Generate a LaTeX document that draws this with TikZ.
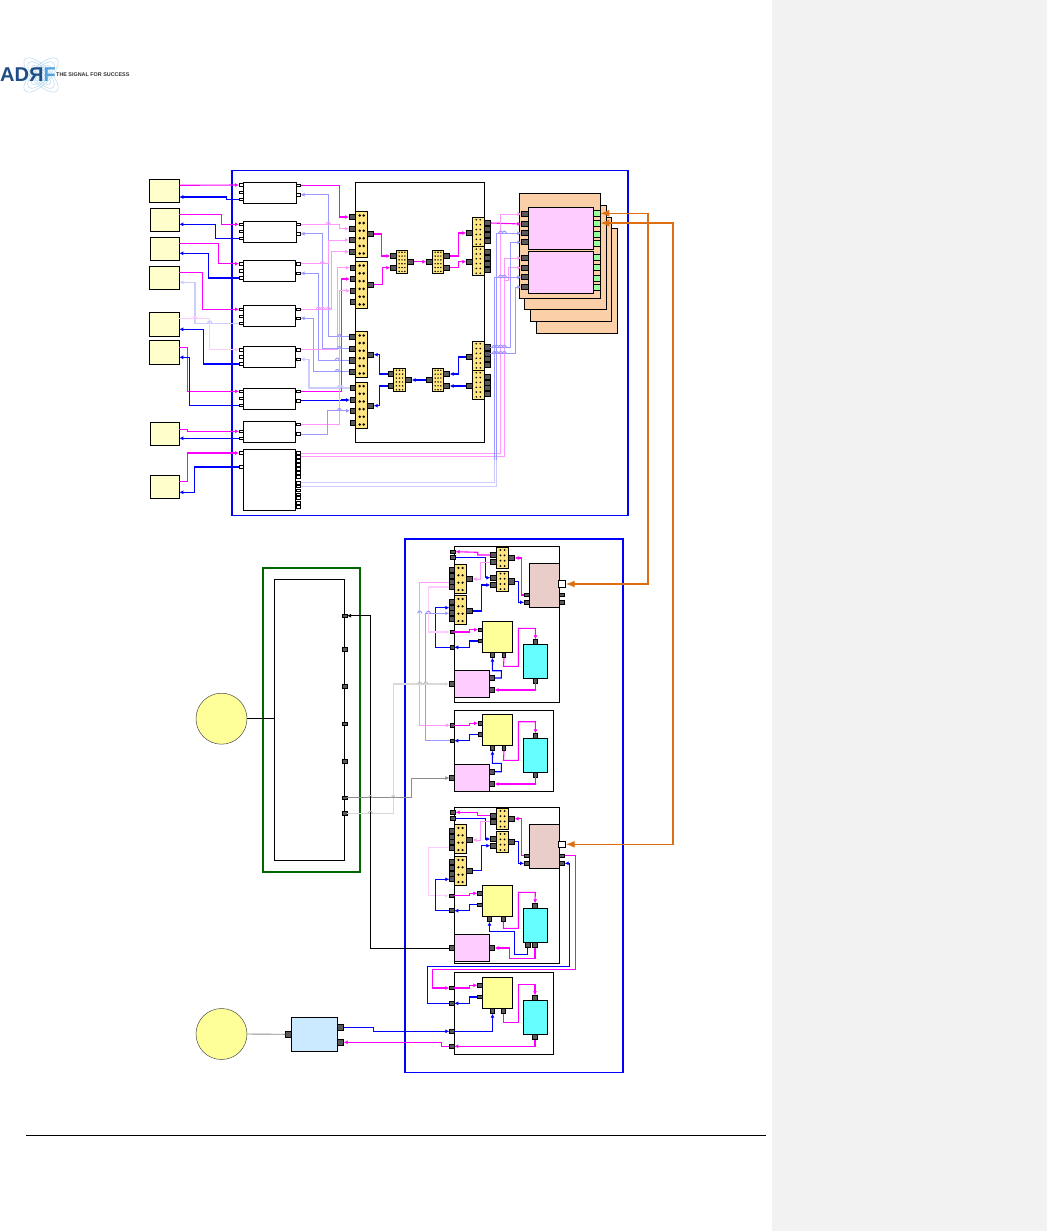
\documentclass[tikz,border=0pt]{standalone}
\usepackage{graphicx}
\usepackage{fontspec}
\setmainfont{Liberation Sans}
\usetikzlibrary{arrows.meta}
\definecolor{cyl}{HTML}{FFFFCC}
\definecolor{cyy}{HTML}{FFFF99}
\definecolor{cor}{HTML}{FBCFA8}
\definecolor{cpk}{HTML}{FFCCFF}
\definecolor{cbr}{HTML}{E8CDC8}
\definecolor{ccy}{HTML}{66FFFF}
\definecolor{cbb}{HTML}{CCEAFF}
\definecolor{cgr}{HTML}{99FF99}
\definecolor{cbk}{HTML}{FFE680}
\definecolor{cpt}{HTML}{595959}
\definecolor{cog}{HTML}{DD6F12}
\definecolor{cmag}{HTML}{FF00FF}
\definecolor{cblu}{HTML}{0000FF}
\definecolor{clogoa}{HTML}{1F4E86}
\definecolor{clogob}{HTML}{4FA0DC}
\definecolor{clogoc}{HTML}{BFDDF2}
\tikzset{
 x=1pt,y=-1pt,
 bb/.style={draw=black,line width=1pt},
 yl/.style={bb,fill=cyl}, yy/.style={bb,fill=cyy}, oo/.style={bb,fill=cor},
 pk/.style={bb,fill=cpk}, br/.style={bb,fill=cbr}, cy/.style={bb,fill=ccy},
 lbb/.style={bb,fill=cbb}, wb/.style={bb,fill=white}, nb/.style={bb},
 kk/.style={bb,fill=cbk},
 dp/.style={draw=black,line width=0.8pt,fill=cpt},
 wpo/.style={draw=black,line width=0.8pt,fill=white},
 gpo/.style={draw=black,line width=0.5pt,fill=cgr},
 wt/.style={-{Latex[length=4pt,width=4pt]}},
 mg/.style={draw=cmag,line width=1.1pt},
 bl/.style={draw=cblu,line width=1.1pt},
 lp/.style={draw=cmag!40,line width=1pt},
 lb/.style={draw=cblu!40,line width=1pt},
 fp/.style={draw=cmag!20,line width=1.3pt},
 fb/.style={draw=cblu!20,line width=1.3pt},
 bkw/.style={draw=black,line width=0.9pt},
 g1/.style={draw=black!15,line width=1.3pt},
 g2/.style={draw=black!25,line width=0.8pt},
 g3/.style={draw=black!45,line width=0.8pt},
 og/.style={draw=cog,line width=1.4pt,{Latex[length=9pt,width=7pt]}-{Latex[length=9pt,width=7pt]}},
}
\newcommand{\bx}[6]{\pgfmathsetmacro\cxa{((#3)+(#5))/2}\pgfmathsetmacro\cya{((#4)+(#6))/2}\pgfmathsetmacro\wa{(#5)-(#3)}\pgfmathsetmacro\ha{(#6)-(#4)}\node[#1,minimum width=\wa pt,minimum height=\ha pt,inner sep=0pt,outer sep=0pt] (#2) at (\cxa,\cya) {};}
\newcommand{\pth}[6]{\bx{#1}{#2}{#3}{#5-#6/2}{#4}{#5+#6/2}}
% block with dot grid: name x1 y1 x2 y2 cols rows r
\newcommand{\blk}[8]{\bx{kk}{#1}{#2}{#3}{#4}{#5}\pgfmathsetmacro\dxa{(#4-#2)/(#6+1)}\pgfmathsetmacro\dya{(#5-#3)/(#7)}\foreach \ci in {1,...,#6}{\foreach \cj in {1,...,#7}{\fill[black] ({#2+\ci*\dxa},{#3+(\cj-0.5)*\dya}) circle (#8pt);}}}
\newcommand{\jmp}[3]{\draw[#1] ({#2-2.2},#3) .. controls ({#2-1},{#3-3}) and ({#2+1},{#3-3}) .. ({#2+2.2},#3);}
\begin{document}
\begin{tikzpicture}
\useasboundingbox (0,0) rectangle (1047,1231);
\fill[white] (0,0) rectangle (1047,1231);
\fill[black!5] (772,0) rectangle (1047,1231);
\draw[black,line width=0.7pt] (26,1135) -- (766,1135);
% logo
\foreach \r in {6,10,14,18}{
 \draw[clogoc,line width=0.6pt,rotate around={45:(41,75)}] (41,75) ellipse ({\r*1.25} and {\r*0.5});
 \draw[clogoc,line width=0.6pt,rotate around={-45:(41,75)}] (41,75) ellipse ({\r*1.25} and {\r*0.5});
}
\node[inner sep=0pt,anchor=west,font=\bfseries\fontsize{20}{20}\selectfont,text=clogoa] (logo) at (0,75) {AD\reflectbox{R}\textcolor{clogob}{F}};
\node[inner sep=0pt,anchor=west,font=\bfseries\fontsize{5.4}{6}\selectfont,text=black!80] (tagline) at (56,75) {THE SIGNAL FOR SUCCESS};
% frames
\bx{draw=blue,line width=1.6pt}{frma}{232}{170.5}{628}{515.5}
\bx{draw=blue,line width=1.6pt}{frmb}{405}{538.7}{622.7}{1072.3}
\bx{draw=green!40!black,line width=1.6pt}{frmc}{263}{568}{360}{872}
\bx{nb}{ginner}{274.3}{579.3}{344.3}{860.3}
% left yellow boxes
\bx{yl}{yb1}{149.3}{179.3}{179.3}{202.3}
\bx{yl}{yb2}{150.3}{208.3}{179.3}{231.3}
\bx{yl}{yb3}{150.3}{237.3}{179.3}{260.3}
\bx{yl}{yb4}{149.3}{266.3}{179.3}{289.3}
\bx{yl}{yb5}{149.3}{312.3}{179.3}{336.3}
\bx{yl}{yb6}{149.3}{340.3}{179.3}{364.3}
\bx{yl}{yb7}{150.3}{422.3}{179.3}{445.3}
\bx{yl}{yb8}{150.3}{475.3}{179.3}{498.3}
\foreach \n/\a/\b in {1/185.3/197,2/214.3/224.3,3/243.3/253.3,4/272.3/282.3,5/318.7/329.3,6/347.3/357.3,7/429.3/438.3,8/481.3/492.3}{
 \coordinate (q\n m) at (179.3,\a);
 \coordinate (q\n b) at (179.3,\b);
}
% white modules
\bx{wb}{ma}{243.3}{182.3}{296.3}{203.3}
\bx{wb}{mb}{243.3}{221.3}{296.3}{242.3}
\bx{wb}{mc}{243.3}{260.3}{295.3}{281.3}
\bx{wb}{md}{243.3}{305.3}{295.3}{326.3}
\bx{wb}{me}{243.3}{346.3}{295.3}{367.3}
\bx{wb}{mf}{243.3}{388.3}{295.3}{409.3}
\bx{wb}{mgg}{243.3}{421.3}{295.3}{442.3}
\bx{wb}{mh}{243.3}{449.3}{295.3}{510.3}
\foreach \n/\a/\b/\c/\d/\e in {a/185/192.3/199.3/185.3/194.7,b/224.3/231.3/238.3/224.3/233.7,c/263.7/270.7/278/263.7/273.3,d/309.3/316.3/323.3/309.3/318.3,e/349.7/356.7/364/349.7/359.3,f/391.3/398.3/405.3/391.3/400.7}{
 \pth{wpo}{m\n l1}{239}{243.3}{\a}{2.8}
 \pth{wpo}{m\n l2}{239}{243.3}{\b}{2.8}
 \pth{wpo}{m\n l3}{239}{243.3}{\c}{2.8}
 \pth{wpo}{m\n r1}{296}{300.5}{\d}{2.8}
 \pth{wpo}{m\n r2}{296}{300.5}{\e}{2.8}
}
\pth{wpo}{mgl1}{239}{243.3}{431.3}{2.8}
\pth{wpo}{mgl2}{239}{243.3}{438.3}{2.8}
\pth{wpo}{mgr1}{296}{300.5}{424.3}{2.8}
\pth{wpo}{mgr2}{296}{300.5}{434}{2.8}
\pth{wpo}{mhl1}{239}{243.3}{453}{2.8}
\pth{wpo}{mhl2}{239}{243.3}{467}{2.8}
\foreach \i/\y in {1/453,2/456.7,3/460.7,4/464.7,5/468.7,6/473,7/477,8/482.7,9/486.3,10/490.3,11/494.3,12/498,13/502.7,14/506.7}{
 \pth{wpo}{hr\i}{296}{300.5}{\y}{2.8}
}
% inner box
\bx{nb}{inner}{355.3}{182.3}{484.3}{442.3}
\blk{bl1}{355.7}{211.7}{367.7}{257.3}{2}{6}{1.4}
\blk{bl2}{355.7}{261.7}{367.7}{308.3}{2}{6}{1.4}
\blk{bl3}{355.7}{331.7}{367.7}{377.3}{2}{6}{1.4}
\blk{bl4}{355.7}{382.3}{367.7}{428.3}{2}{6}{1.4}
\foreach \i/\y in {1/217,2/228.7,3/240,4/251.7}{\pth{dp}{bl1p\i}{349}{355.3}{\y}{5.3}}
\foreach \i/\y in {1/267.7,2/279,3/290.7,4/301.7}{\pth{dp}{bl2p\i}{350}{355.3}{\y}{5.3}}
\foreach \i/\y in {1/336.7,2/348.7,3/360.3,4/371.7}{\pth{dp}{bl3p\i}{349}{355.3}{\y}{5.3}}
\foreach \i/\y in {1/388,2/400,3/410.7,4/422.7}{\pth{dp}{bl4p\i}{350}{355.3}{\y}{5.3}}
\pth{dp}{bl1r}{367.5}{373.7}{234}{5.3}
\pth{dp}{bl2r}{367.5}{373.7}{284.7}{5.3}
\pth{dp}{bl3r}{367.5}{373.7}{354.7}{5.3}
\pth{dp}{bl4r}{367.5}{373.7}{405.7}{5.3}
% small blocks
\blk{stl}{396.3}{250.3}{407.7}{273.3}{3}{6}{0.8}
\blk{str}{432.3}{250.3}{443.7}{273.3}{3}{6}{0.8}
\blk{sbl}{393.3}{368.3}{405.7}{391.7}{3}{6}{0.8}
\blk{sbr}{432.3}{368.3}{443.7}{391.7}{3}{6}{0.8}
\pth{dp}{stlp1}{390.3}{396.3}{256}{5.3}
\pth{dp}{stlp2}{390.3}{396.3}{267.7}{5.3}
\pth{dp}{stlr}{407.7}{413.7}{261.7}{5.3}
\pth{dp}{strl}{426.3}{432.3}{261.7}{5.3}
\pth{dp}{strp1}{443.7}{449.7}{256}{5.3}
\pth{dp}{strp2}{443.7}{449.7}{267.7}{5.3}
\pth{dp}{sblp1}{388.3}{393.3}{374}{5.3}
\pth{dp}{sblp2}{388.3}{393.3}{386}{5.3}
\pth{dp}{sblr}{405.7}{411.7}{380}{5.3}
\pth{dp}{sbrl}{426.3}{432.3}{380}{5.3}
\pth{dp}{sbrp1}{443.7}{449.7}{374}{5.3}
\pth{dp}{sbrp2}{443.7}{449.7}{386}{5.3}
% right blocks
\blk{br1}{472.3}{217.3}{484.3}{246.7}{2}{6}{0.9}
\blk{br2}{472.3}{246.7}{484.3}{275.7}{2}{6}{0.9}
\blk{br3}{472.3}{341.3}{484.3}{370.3}{2}{6}{0.9}
\blk{br4}{472.3}{370.3}{484.3}{399.3}{2}{6}{0.9}
\pth{dp}{br1l}{466.3}{472.3}{233}{5.3}
\pth{dp}{br2l}{466.3}{472.3}{261.7}{5.3}
\pth{dp}{br3l}{466.3}{472.3}{357}{5.3}
\pth{dp}{br4l}{466.3}{472.3}{386}{5.3}
\foreach \i/\y in {1/223,2/229,3/235,4/241}{\pth{dp}{br1p\i}{484.3}{490.7}{\y}{5.3}}
\foreach \i/\y in {1/252,2/258,3/264,4/270}{\pth{dp}{br2p\i}{484.3}{490.7}{\y}{5.3}}
\foreach \i/\y in {1/347.3,2/353.7,3/359,4/365}{\pth{dp}{br3p\i}{484.3}{490.3}{\y}{5.3}}
\foreach \i/\y in {1/377,2/383,3/388,4/394}{\pth{dp}{br4p\i}{484.3}{490.3}{\y}{5.3}}
% orange stack
\bx{oo}{o4}{536.3}{228.3}{617.7}{333.3}
\bx{oo}{o3}{530.3}{217.3}{611.7}{321.3}
\bx{oo}{o2}{524.3}{205.7}{606.7}{309.3}
\bx{oo}{o1}{519.3}{193.3}{600.3}{298.3}
\foreach \i/\y in {1/214,2/224,3/233.3,4/242.3,5/258,6/267.7,7/277.3,8/287}{\pth{dp}{op\i}{521.3}{528.3}{\y}{5}}
\foreach \i/\y in {1/213.3,2/223,3/234.3,4/243.3,5/257.3,6/267,7/278.3,8/287.3}{\pth{gpo}{og\i}{593.3}{600.3}{\y}{6}}
\bx{pk}{p1}{528.3}{207.3}{593.3}{249.3}
\bx{pk}{p2}{528.3}{251.3}{593.3}{293.3}
% U boxes
\bx{nb}{u1}{454.3}{546.7}{559.3}{702.3}
\bx{nb}{u2}{454.3}{710.3}{553.3}{791.3}
\bx{nb}{u3}{454.3}{807.3}{559.3}{963.3}
\bx{nb}{u4}{454.3}{972.3}{553.3}{1054.3}
% U1
\blk{t1}{496.3}{547.3}{508.7}{568.7}{2}{4}{1}
\blk{t2}{496.3}{571}{508.7}{591.7}{2}{4}{1}
\blk{t3}{454.3}{564.3}{466.7}{593.7}{2}{4}{1.2}
\blk{t4}{454.3}{595.3}{466.7}{624.7}{2}{4}{1.2}
\pth{dp}{t1p1}{490.3}{496.3}{555}{5.3}
\pth{dp}{t1p2}{490.3}{496.3}{562}{5.3}
\pth{dp}{t1r}{508.7}{514.7}{558}{5.3}
\pth{dp}{t2p1}{490.3}{496.3}{577.7}{5.3}
\pth{dp}{t2p2}{490.3}{496.3}{585}{5.3}
\pth{dp}{t2r}{508.7}{514.7}{581.3}{5.3}
\foreach \i/\y in {1/569.7,2/576,3/582,4/587}{\pth{dp}{t3p\i}{449.3}{454.3}{\y}{5}}
\pth{dp}{t3r}{466.7}{472.7}{579}{5.3}
\foreach \i/\y in {1/601.7,2/607.7,3/613.3,4/619}{\pth{dp}{t4p\i}{449.3}{454.3}{\y}{5}}
\pth{dp}{t4r}{466.7}{472.7}{611}{5.3}
\pth{dp}{uat}{450.3}{455.7}{551.7}{3.5}
\pth{dp}{uab}{450.3}{455.7}{557.3}{4}
\bx{br}{b1}{529.3}{563.3}{559.3}{607.3}
\pth{wpo}{b1w}{558.3}{565.7}{584}{7.3}
\pth{dp}{b1l1}{524}{529.3}{595}{3.5}
\pth{dp}{b1l2}{524}{529.3}{602.3}{4.3}
\pth{dp}{b1r1}{559.3}{564.7}{595}{3.5}
\pth{dp}{b1r2}{559.3}{564.7}{602.3}{4.3}
% yellow / cyan / pink sets
\bx{yy}{y1}{482.3}{621.3}{512.7}{652.3}
\pth{dp}{y1l1}{478}{482.3}{629.7}{3.5}
\pth{dp}{y1l2}{478}{482.3}{641}{3.5}
\bx{dp}{y1b1}{490.3}{652.3}{494.7}{657.7}
\bx{dp}{y1b2}{502.3}{652.3}{505.7}{657.7}
\bx{cy}{c1}{523.3}{644.3}{547.3}{678.3}
\bx{dp}{c1t}{533.3}{639.3}{537.7}{644.3}
\bx{dp}{c1b}{533.3}{678.3}{537.7}{683.3}
\bx{pk}{k1}{454.3}{670.3}{489.7}{697.3}
\pth{dp}{k1l}{449.3}{454.3}{684}{5}
\pth{dp}{k1r1}{489.7}{494.7}{678}{5}
\pth{dp}{k1r2}{489.7}{494.7}{690}{5}
\pth{dp}{e11}{450.3}{454.3}{632}{3.5}
\pth{dp}{e12}{450.3}{454.3}{647.3}{4.3}
% U2
\bx{yy}{y2}{482.3}{714.3}{512.7}{745.3}
\pth{dp}{y2l1}{478}{482.3}{723.3}{3.5}
\pth{dp}{y2l2}{478}{482.3}{734.3}{3.5}
\bx{dp}{y2b1}{490.3}{745.3}{494.7}{750.7}
\bx{dp}{y2b2}{502.3}{745.3}{505.7}{750.7}
\bx{cy}{c2}{523.3}{738.3}{547.3}{772.3}
\bx{dp}{c2t}{533.3}{733.3}{537.7}{738.3}
\bx{dp}{c2b}{533.3}{772.3}{537.7}{777.3}
\bx{pk}{k2}{454.3}{764.3}{489.7}{791.3}
\pth{dp}{k2l}{449.3}{454.3}{778}{5}
\pth{dp}{k2r1}{489.7}{494.7}{771.7}{5}
\pth{dp}{k2r2}{489.7}{494.7}{784}{5}
\pth{dp}{e21}{450.3}{454.3}{725.3}{3.5}
\pth{dp}{e22}{450.3}{454.3}{740.7}{3.5}
% U3
\blk{v1}{496.3}{808.3}{508.7}{829.3}{2}{4}{1}
\blk{v2}{496.3}{831.3}{508.7}{852.7}{2}{4}{1}
\blk{v3}{454.3}{824.3}{466.7}{853.7}{2}{4}{1.2}
\blk{v4}{454.3}{856.3}{466.7}{885.7}{2}{4}{1.2}
\pth{dp}{v1p1}{490.3}{496.3}{815.7}{5.3}
\pth{dp}{v1p2}{490.3}{496.3}{821.7}{5.3}
\pth{dp}{v1r}{508.7}{514.7}{818.7}{5.3}
\pth{dp}{v2p1}{490.3}{496.3}{839}{5.3}
\pth{dp}{v2p2}{490.3}{496.3}{845.7}{5.3}
\pth{dp}{v2r}{508.7}{514.7}{841.7}{5.3}
\foreach \i/\y in {1/830.7,2/837,3/842,4/847.7}{\pth{dp}{v3p\i}{449.3}{454.3}{\y}{5}}
\pth{dp}{v3r}{466.7}{472.7}{840}{5.3}
\foreach \i/\y in {1/861.7,2/867.7,3/873.7,4/879.3}{\pth{dp}{v4p\i}{449.3}{454.3}{\y}{5}}
\pth{dp}{v4r}{466.7}{472.7}{870.7}{5.3}
\pth{dp}{uct}{450.3}{455.7}{812.3}{4}
\pth{dp}{ucb}{450.3}{455.7}{818.3}{4}
\bx{br}{b2}{529.3}{824.3}{559.3}{868.3}
\pth{wpo}{b2w}{558.3}{565.7}{844.3}{6.3}
\pth{dp}{b2l1}{524}{529.3}{855.7}{3.5}
\pth{dp}{b2l2}{524}{529.3}{863.3}{4.3}
\pth{dp}{b2r1}{559.3}{564.7}{855.7}{3.5}
\pth{dp}{b2r2}{559.3}{564.7}{863.3}{4.3}
\bx{yy}{y3}{482.3}{885.3}{512.7}{916.3}
\pth{dp}{y3l1}{477.3}{482.3}{893.3}{3.5}
\pth{dp}{y3l2}{477.3}{482.3}{904.7}{3.5}
\bx{dp}{y3b1}{487.3}{916.3}{491.7}{921.7}
\bx{dp}{y3b2}{501.3}{916.3}{505.3}{921.7}
\bx{cy}{c3}{523.3}{908}{547.3}{942.7}
\bx{dp}{c3t}{532.3}{903.3}{537.7}{908}
\bx{dp}{c3b1}{525.3}{942.7}{530.3}{947.7}
\bx{dp}{c3b2}{532.3}{942.7}{537.7}{947.7}
\bx{pk}{k3}{454.3}{934.3}{489.7}{961.7}
\pth{dp}{k3l}{449.3}{454.3}{948}{5}
\pth{dp}{k3r}{489.7}{494.7}{948}{5}
\pth{dp}{e31}{449.3}{454.3}{895.7}{3.5}
\pth{dp}{e32}{449.3}{454.3}{910.7}{4}
% U4
\bx{yy}{y4}{482.3}{977.3}{512.7}{1008.3}
\pth{dp}{y4l1}{477.3}{482.3}{985.3}{3.5}
\pth{dp}{y4l2}{477.3}{482.3}{997}{3.5}
\bx{dp}{y4b1}{490.3}{1008.3}{494.7}{1013.7}
\bx{dp}{y4b2}{501.3}{1008.3}{505.3}{1013.7}
\bx{cy}{c4}{523.3}{1000.3}{547.3}{1034.3}
\bx{dp}{c4t}{532.3}{995.3}{537.7}{1000.3}
\bx{dp}{c4b}{532.3}{1034.3}{537.7}{1039.7}
\pth{dp}{e41}{449.3}{454.3}{988}{3.5}
\pth{dp}{e42}{449.3}{454.3}{1003.3}{4}
\pth{dp}{e43}{449.3}{454.3}{1031.3}{4}
\pth{dp}{e44}{449.3}{454.3}{1046.3}{4}
% green frame ports
\foreach \i/\y in {1/615.7,2/649.3,3/686.3,4/724,5/761.3,6/797.7,7/813.3}{\pth{dp}{gp\i}{342}{347}{\y}{3.5}}
% circles and blue box
\node[circle,draw=black!70,line width=0.5pt,fill=cyy,minimum size=51pt,inner sep=0pt] (cir1) at (221.5,718.7) {};
\node[circle,draw=black!70,line width=0.5pt,fill=cyy,minimum size=51pt,inner sep=0pt] (cir2) at (221.5,1034) {};
\bx{lbb}{bbx}{291.3}{1017.3}{337.3}{1051.3}
\pth{dp}{bbl}{285.3}{291.3}{1034.3}{6}
\pth{dp}{bbr1}{337.3}{343.7}{1027.3}{6}
\pth{dp}{bbr2}{337.3}{343.7}{1042.3}{6}
\draw[bkw] (cir1.east) -- (ginner.west |- cir1.east);
\draw[g3,line width=.9pt] (cir2.east) -- (bbl.west);
% left wires
\draw[mg,wt] (q1m) -- (mal1.west);
\draw[bl,wt] (mal3.west) -- (226.3,199.3) -- (226.3,197) -- (q1b);
\draw[mg,wt] (q2m) -- (221.3,214.3) -- (221.3,224.3) -- (mbl1.west);
\draw[bl,wt] (mbl3.west) -- (215.7,238.3) -- (215.7,224.3) -- (q2b);
\draw[mg,wt] (q3m) -- (218.3,243.3) -- (218.3,263.7) -- (mcl1.west);
\draw[bl,wt] (mcl3.west) -- (208.7,278) -- (208.7,253.3) -- (q3b);
\draw[mg,wt] (q4m) -- (202.3,272.3) -- (202.3,309.3) -- (mdl1.west);
\draw[fb,wt] (mdl3.west) -- (195,323.3) -- (195,282.3) -- (q4b);
\draw[fp,wt] (q5m) -- (209.7,318.7) -- (209.7,349.7) -- (mel1.west);
\draw[bl,wt] (mel3.west) -- (203.3,364) -- (203.3,329.3) -- (q5b);
\draw[mg,wt] (q6m) -- (187.7,347.3) -- (187.7,391.3) -- (mfl1.west);
\draw[bl,wt] (mfl3.west) -- (189.7,405.3) -- (189.7,357.3) -- (q6b);
\draw[mg,wt] (q7m) -- (187.3,429.3) -- (187.3,431.3) -- (mgl1.west);
\draw[bl,wt] (mgl2.west) -- (q7b);
\draw[mg,wt] (q8m) -- (187.3,481.3) -- (187.3,453) -- (mhl1.west);
\draw[bl,wt] (mhl2.west) -- (194.3,467) -- (194.3,492.3) -- (q8b);
% module -> block wires
\draw[mg,wt] (mar1.east) -- (339.3,185.3) -- (339.3,217) -- (bl1p1.west);
\draw[lb,wt] (bl3p1.west) -- (328.3,336.7) -- (328.3,194.7) -- (mar2.east);
\draw[lp,wt] (mbr1.east) -- (339.3,224.3) -- (339.3,228.7) -- (bl1p2.west);
\draw[lb,wt] (bl3p2.west) -- (322.3,348.7) -- (322.3,233.7) -- (mbr2.east);
\draw[lb,wt] (bl3p3.west) -- (318.3,360.3) -- (318.3,273.3) -- (mcr2.east);
\draw[lb,wt] (bl3p4.west) -- (313.3,371.7) -- (313.3,318.3) -- (mdr2.east);
\draw[lp,wt] (mcr1.east) -- (328.3,263.7) -- (328.3,240) -- (bl1p3.west);
\draw[lp,wt] (mdr1.east) -- (331.7,309.3) -- (331.7,251.7) -- (bl1p4.west);
\draw[lp,wt] (mer1.east) -- (337.3,349.7) -- (337.3,267.7) -- (bl2p1.west);
\draw[fb,wt] (bl4p1.west) -- (309,388) -- (309,359.3) -- (mer2.east);
\draw[mg,wt] (mfr1.east) -- (341.3,391.3) -- (341.3,279) -- (bl2p2.west);
\draw[bl,wt] (mfr2.east) -- (341.3,400.7) -- (341.3,400) -- (bl4p2.west);
\draw[lp,wt] (mgr1.east) -- (339.3,424.3) -- (339.3,290.7) -- (bl2p3.west);
\draw[lb,wt] (mgr2.east) -- (327.7,434) -- (327.7,410.7) -- (bl4p3.west);
% inner wires
\draw[mg,wt] (bl1r.east) -- (381.3,234) -- (381.3,256) -- (stlp1.west);
\draw[mg,wt] (bl2r.east) -- (382.3,284.7) -- (382.3,267.7) -- (stlp2.west);
\draw[mg,wt] (stlr.east) -- (strl.west);
\draw[mg,wt] (strp1.east) -- (458.3,256) -- (458.3,233) -- (br1l.west);
\draw[mg,wt] (strp2.east) -- (458.3,267.7) -- (458.3,261.7) -- (br2l.west);
\draw[bl,wt] (sblp1.west) -- (379.3,374) -- (379.3,354.7) -- (bl3r.east);
\draw[bl,wt] (sblp2.west) -- (379.3,386) -- (379.3,405.7) -- (bl4r.east);
\draw[bl,wt] (sbrl.west) -- (sblr.east);
\draw[bl,wt] (br3l.west) -- (458.3,357) -- (458.3,374) -- (sbrp1.east);
\draw[bl,wt] (br4l.west) -- (458.3,386) -- (sbrp2.east);
% blocks -> pink
\draw[mg,wt] (br1p1.east) -- (op2.west);
\draw[lp,wt] (hr1.east) -- (500.7,453) -- (500.7,214) -- (op1.west);
\draw[lp,wt] (hr2.east) -- (504.3,456.7) -- (504.3,258) -- (op5.west);
\draw[lp,wt] (504.3,280) -- (508.3,280) -- (508.3,267.7) -- (op6.west);
\draw[fb,wt] (hr8.east) -- (494.3,482.7) -- (494.3,277.3) -- (op7.west);
\draw[fb,wt] (hr9.east) -- (496.7,486.3) -- (496.7,233.3) -- (op3.west);
\draw[lb,wt] (494.3,277.3) -- (op7.west);
\draw[lb,wt] (496.7,233.3) -- (op3.west);
\draw[lb] (494.3,460) -- (494.3,277.3) (496.7,460) -- (496.7,233.3);
\draw[lb,wt] (br3p1.east) -- (510.7,347.3) -- (510.7,242.3) -- (op4.west);
\draw[lb,wt] (br3p2.east) -- (515.7,353.7) -- (515.7,287) -- (op8.west);
% U1 wires
\draw[mg,wt] (t1p1.west) -- (477.7,555) -- (477.7,552.3) -- (uat.east);
\draw[bl,wt] (uab.east) -- (485.3,557.3) -- (485.3,577.7) -- (t2p1.west);
\draw[bl,wt] (t4r.east) -- (481.7,611) -- (481.7,585) -- (t2p2.west);
\draw[lp,wt] (t1p2.west) -- (480.3,562) -- (480.3,579) -- (t3r.east);
\draw[mg,wt] (b1l1.west) -- (521.3,595) -- (521.3,558) -- (t1r.east);
\draw[bl,wt] (t2r.east) -- (518.3,581.3) -- (518.3,602.3) -- (b1l2.west);
\draw[bl,wt] (e12.west) -- (435.7,647.3) -- (435.7,607.7) -- (t4p2.west);
\draw[lb,wt] (e22.west) -- (425.7,740.7) -- (425.7,613.3) -- (t4p3.west);
\draw[lp,wt] (t3p3.west) -- (419.7,582) -- (419.7,725.3) -- (e21.west);
\draw[fp,wt] (t3p4.west) -- (428.3,587) -- (428.3,632) -- (e11.west);
\draw[mg,wt] (e11.east) -- (469.3,632) -- (469.3,629.7) -- (y1l1.west);
\draw[bl,wt] (y1l2.west) -- (469.3,641) -- (469.3,647.3) -- (e12.east);
\draw[mg,wt] (y1b2.south) -- (503.5,666.3) -- (518.3,666.3) -- (518.3,628.3) -- (535.3,628.3) -- (c1t.north);
\draw[mg,wt] (c1b.south) -- (535.5,690) -- (k1r2.east);
\draw[bl,wt] (k1r1.east) -- (501.3,678) -- (501.3,670.7) -- (492.4,670.7) -- (y1b1.south);
\draw[g1,wt] (gp7.east) -- (393.3,813.3) -- (393.3,684) -- (k1l.west);
\draw[g3,wt] (gp6.east) -- (411.7,797.7) -- (411.7,778) -- (k2l.west);
\draw[bkw,wt] (k3l.west) -- (370.3,948) -- (370.3,615.7) -- (gp1.east);
% U2 wires
\draw[mg,wt] (e21.east) -- (469.3,725.3) -- (469.3,723.3) -- (y2l1.west);
\draw[bl,wt] (y2l2.west) -- (469.3,734.3) -- (469.3,740.7) -- (e22.east);
\draw[mg,wt] (y2b2.south) -- (503.5,760.3) -- (518.3,760.3) -- (518.3,721.7) -- (535.3,721.7) -- (c2t.north);
\draw[mg,wt] (c2b.south) -- (535.5,784) -- (k2r2.east);
\draw[bl,wt] (k2r1.east) -- (501.3,771.7) -- (501.3,763.3) -- (492.4,763.3) -- (y2b1.south);
% U3 wires
\draw[mg,wt] (v1p1.west) -- (477.7,815.7) -- (477.7,812.3) -- (uct.east);
\draw[bl,wt] (ucb.east) -- (485.3,818.3) -- (485.3,839) -- (v2p1.west);
\draw[bl,wt] (v4r.east) -- (481.7,870.7) -- (481.7,845.7) -- (v2p2.west);
\draw[lp,wt] (v1p2.west) -- (480.3,821.7) -- (480.3,840) -- (v3r.east);
\draw[mg,wt] (b2l1.west) -- (521.3,855.7) -- (521.3,818.7) -- (v1r.east);
\draw[bl,wt] (v2r.east) -- (518.3,841.7) -- (518.3,863.3) -- (b2l2.west);
\draw[mg,wt] (b2r1.east) -- (575.3,855.7) -- (575.3,969.3) -- (432.3,969.3) -- (432.3,988) -- (e41.west);
\draw[bl,wt] (e42.west) -- (427.3,1003.3) -- (427.3,966.3) -- (569.3,966.3) -- (569.3,863.3) -- (b2r2.east);
\draw[fp,wt] (v3p4.west) -- (428.3,847.7) -- (428.3,895.7) -- (e31.west);
\draw[bl,wt] (e32.west) -- (435.7,910.7) -- (435.7,879.3) -- (v4p4.west);
\draw[mg,wt] (e31.east) -- (469.3,895.7) -- (469.3,893.3) -- (y3l1.west);
\draw[bl,wt] (y3l2.west) -- (469.3,904.7) -- (469.3,910.7) -- (e32.east);
\draw[mg,wt] (y3b2.south) -- (503.3,928.3) -- (518.3,928.3) -- (518.3,892.3) -- (535.3,892.3) -- (c3t.north);
\draw[mg,wt] (c3b2.south) -- (535,958.3) -- (509.3,958.3) -- (509.3,948) -- (k3r.east);
\draw[bl,wt] (c3b1.south) -- (527.8,954.3) -- (514.7,954.3) -- (514.7,931.3) -- (489.5,931.3) -- (y3b1.south);
% U4 wires
\draw[mg,wt] (e41.east) -- (469.3,988) -- (469.3,985.3) -- (y4l1.west);
\draw[bl,wt] (y4l2.west) -- (469.3,997) -- (469.3,1003.3) -- (e42.east);
\draw[mg,wt] (y4b2.south) -- (503.3,1022.3) -- (518.3,1022.3) -- (518.3,984.3) -- (535,984.3) -- (c4t.north);
\draw[mg,wt] (c4b.south) -- (535,1046.3) -- (e44.east);
\draw[bl,wt] (e43.east) -- (492.5,1031.3) -- (y4b1.south);
\draw[bl,wt] (bbr1.east) -- (373.3,1027.3) -- (373.3,1031.3) -- (e43.west);
\draw[mg,wt] (e44.west) -- (441.3,1046.3) -- (441.3,1042.3) -- (bbr2.east);
% orange
\draw[og] (og1.east) -- (648,213.3) -- (648,584) -- (b1w.east);
\draw[og] (og2.east) -- (673,223) -- (673,844.3) -- (b2w.east);
% jumps
\foreach \x/\y in {328.3/224.3,322.3/263.7,318.3/309.3,322.3/309.3,328.3/309.3}{\jmp{lp}{\x}{\y}}
\foreach \x/\y in {339.3/336.7,339.3/348.7,337.3/360.3,337.3/371.7,339.3/410.7,500.7/233.3,504.3/233.3,500.7/277.3,504.3/277.3,494.3/347.3,496.7/347.3,500.7/347.3,504.3/347.3,494.3/353.7,496.7/353.7,500.7/353.7,504.3/353.7,419.7/613.3,428.3/613.3}{\jmp{lb}{\x}{\y}}
\foreach \x/\y in {339.3/388,341.3/388}{\jmp{fb}{\x}{\y}}
\jmp{fp}{195}{318.7}
\jmp{fb}{209.7}{323.3}
\foreach \x/\y in {419.7/684,425.7/684,370.3/797.7,393.3/797.7,370.3/813.3}{\jmp{g2}{\x}{\y}}
\end{tikzpicture}
\end{document}
